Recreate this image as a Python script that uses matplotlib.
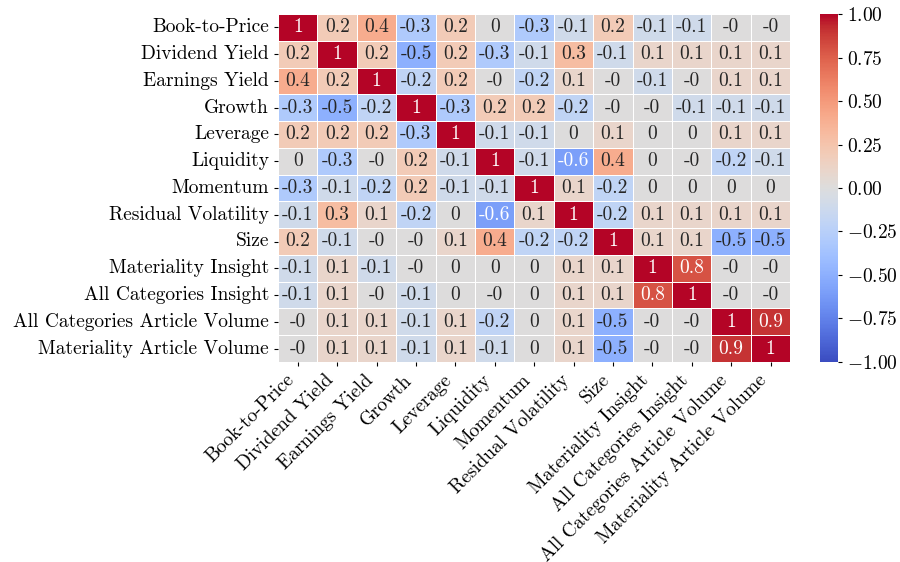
import numpy as np
import matplotlib
matplotlib.use("Agg")
import matplotlib.pyplot as plt
import seaborn as sns

# factor names (rows and columns share the same order)
factors = [
    "Book-to-Price", "Dividend Yield", "Earnings Yield", "Growth", "Leverage",
    "Liquidity", "Momentum", "Residual Volatility", "Size",
    "Materiality Insight", "All Categories Insight",
    "All Categories Article Volume", "Materiality Article Volume",
]

# rounded correlations as shown in the cells (-0.0 keeps the "-0" labels)
corr = np.array([
    [1, 0.2, 0.4, -0.3, 0.2, 0, -0.3, -0.1, 0.2, -0.1, -0.1, -0.0, -0.0],
    [0.2, 1, 0.2, -0.5, 0.2, -0.3, -0.1, 0.3, -0.1, 0.1, 0.1, 0.1, 0.1],
    [0.4, 0.2, 1, -0.2, 0.2, -0.0, -0.2, 0.1, -0.0, -0.1, -0.0, 0.1, 0.1],
    [-0.3, -0.5, -0.2, 1, -0.3, 0.2, 0.2, -0.2, -0.0, -0.0, -0.1, -0.1, -0.1],
    [0.2, 0.2, 0.2, -0.3, 1, -0.1, -0.1, 0, 0.1, 0, 0, 0.1, 0.1],
    [0, -0.3, -0.0, 0.2, -0.1, 1, -0.1, -0.6, 0.4, 0, -0.0, -0.2, -0.1],
    [-0.3, -0.1, -0.2, 0.2, -0.1, -0.1, 1, 0.1, -0.2, 0, 0, 0, 0],
    [-0.1, 0.3, 0.1, -0.2, 0, -0.6, 0.1, 1, -0.2, 0.1, 0.1, 0.1, 0.1],
    [0.2, -0.1, -0.0, -0.0, 0.1, 0.4, -0.2, -0.2, 1, 0.1, 0.1, -0.5, -0.5],
    [-0.1, 0.1, -0.1, -0.0, 0, 0, 0, 0.1, 0.1, 1, 0.8, -0.0, -0.0],
    [-0.1, 0.1, -0.0, -0.1, 0, -0.0, 0, 0.1, 0.1, 0.8, 1, -0.0, -0.0],
    [-0.0, 0.1, 0.1, -0.1, 0.1, -0.2, 0, 0.1, -0.5, -0.0, -0.0, 1, 0.9],
    [-0.0, 0.1, 0.1, -0.1, 0.1, -0.1, 0, 0.1, -0.5, -0.0, -0.0, 0.9, 1],
], dtype=float)

cbar_ticks = [-1.0, -0.75, -0.5, -0.25, 0.0, 0.25, 0.5, 0.75, 1.0]

plt.rcParams["font.family"] = "serif"
plt.rcParams["font.serif"] = ["cmr10", "DejaVu Serif"]
plt.rcParams["mathtext.fontset"] = "cm"
plt.rcParams["axes.formatter.use_mathtext"] = True
plt.rcParams["axes.unicode_minus"] = True

fig = plt.figure(figsize=(9, 5.62), dpi=100)
ax = fig.add_axes([0.309, 0.356, 0.569, 0.619])
cax = fig.add_axes([0.911, 0.356, 0.02, 0.619])

sns.heatmap(
    corr, ax=ax, cbar_ax=cax, cmap="coolwarm", vmin=-1, vmax=1,
    annot=True, fmt="g", annot_kws={"size": 14},
    linewidths=0.5, linecolor="white",
    xticklabels=factors, yticklabels=factors,
    cbar_kws={"ticks": cbar_ticks},
)

ax.tick_params(axis="both", labelsize=14, length=3, width=0.8)
plt.setp(ax.get_xticklabels(), rotation=45, ha="right")
plt.setp(ax.get_yticklabels(), rotation=0)

cax.tick_params(labelsize=14, length=3, width=0.8)
cax.set_yticklabels([f"${t:.2f}$" for t in cbar_ticks])

fig.savefig("out.png", dpi=100)
